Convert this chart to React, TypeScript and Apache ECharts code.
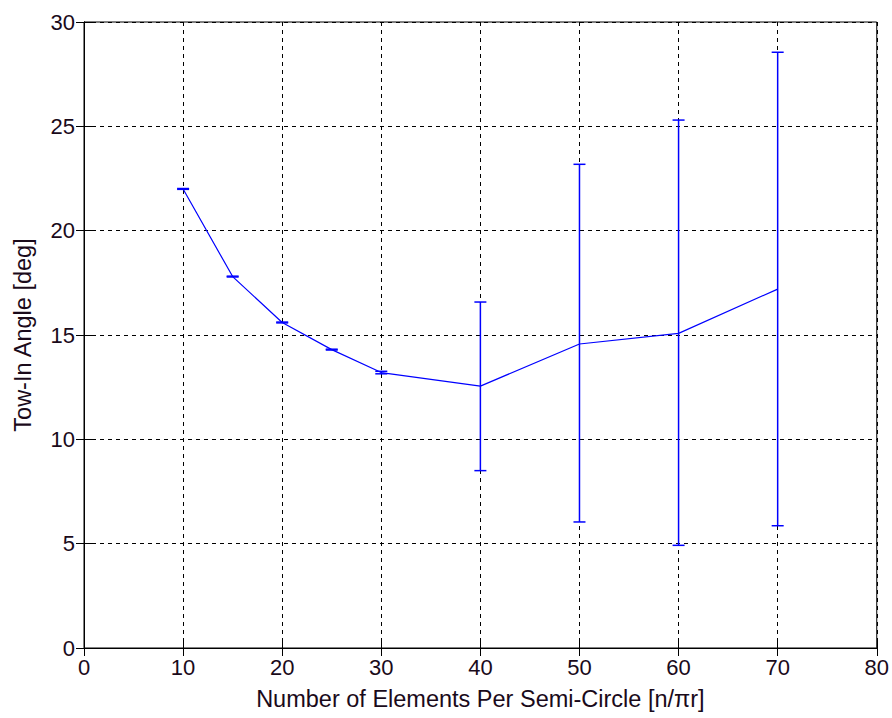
import React, { useEffect, useRef } from "react";
import * as echarts from "echarts";

const xValues = [10, 15, 20, 25, 30, 40, 50, 60, 70];
const meanValues = [22.0, 17.8, 15.6, 14.3, 13.2, 12.55, 14.57, 15.08, 17.2];
const upperValues = [22.02, 17.82, 15.62, 14.32, 13.26, 16.58, 23.18, 25.3, 28.55];
const lowerValues = [21.98, 17.78, 15.58, 14.28, 13.14, 8.5, 6.04, 4.92, 5.86];

const xTicks = [0, 10, 20, 30, 40, 50, 60, 70, 80];
const yTicks = [0, 5, 10, 15, 20, 25, 30];

const FONT = "Liberation Sans, Arial, sans-serif";
const NAME_FS = 23.5;
const TICK_FS = 22;
const BLUE = "#0000ff";

export default function App() {
  const ref = useRef<HTMLDivElement>(null);
  useEffect(() => {
    if (!ref.current) return;
    const chart = echarts.init(ref.current, undefined, { renderer: "svg" });
    const lineData = xValues.map((x, i) => [x, meanValues[i]]);
    const errData = xValues.map((x, i) => [x, lowerValues[i], upperValues[i]]);
    const grid = { left: 84, right: 12, top: 22, bottom: 70 };
    const textColor = "#1a0a1a";
    chart.setOption({
      animation: false,
      backgroundColor: "#ffffff",
      grid: { ...grid, show: true, borderColor: "#000", borderWidth: 1, backgroundColor: "transparent" },
      xAxis: [
        {
          type: "value",
          min: xTicks[0],
          max: xTicks[xTicks.length - 1],
          interval: 10,
          position: "bottom",
          name: "Number of Elements Per Semi-Circle [n/\u03c0r]",
          nameLocation: "middle",
          nameGap: 39,
          nameTextStyle: { fontFamily: FONT, fontSize: NAME_FS, color: textColor },
          axisLine: { show: true, lineStyle: { color: "#000", width: 1 } },
          axisTick: { show: true, inside: true, length: 8, lineStyle: { color: "#000" } },
          axisLabel: { fontFamily: FONT, fontSize: TICK_FS, color: textColor, margin: 8 },
          splitLine: { show: true, lineStyle: { color: "#000", type: [4, 4], width: 1 } },
        },
        {
          type: "value",
          min: xTicks[0],
          max: xTicks[xTicks.length - 1],
          interval: 10,
          position: "top",
          axisLine: { show: true, lineStyle: { color: "#000" } },
          axisTick: { show: true, inside: true, length: 8, lineStyle: { color: "#000" } },
          axisLabel: { show: false },
          splitLine: { show: false },
        },
      ],
      yAxis: [
        {
          type: "value",
          min: yTicks[0],
          max: yTicks[yTicks.length - 1],
          interval: 5,
          position: "left",
          name: "Tow-In Angle [deg]",
          nameLocation: "middle",
          nameGap: 49,
          nameTextStyle: { fontFamily: FONT, fontSize: NAME_FS, color: textColor },
          axisLine: { show: true, lineStyle: { color: "#000" } },
          axisTick: { show: true, inside: true, length: 8, lineStyle: { color: "#000" } },
          axisLabel: { fontFamily: FONT, fontSize: TICK_FS, color: textColor, margin: 9 },
          splitLine: { show: true, lineStyle: { color: "#000", type: [4, 4], width: 1 } },
        },
        {
          type: "value",
          min: yTicks[0],
          max: yTicks[yTicks.length - 1],
          interval: 5,
          position: "right",
          axisLine: { show: true, lineStyle: { color: "#000" } },
          axisTick: { show: true, inside: true, length: 8, lineStyle: { color: "#000" } },
          axisLabel: { show: false },
          splitLine: { show: false },
        },
      ],
      series: [
        {
          type: "line",
          xAxisIndex: 0,
          yAxisIndex: 0,
          data: lineData,
          showSymbol: false,
          symbol: "none",
          lineStyle: { color: BLUE, width: 1.2 },
          z: 3,
        },
        {
          type: "custom",
          xAxisIndex: 0,
          yAxisIndex: 0,
          data: errData,
          z: 4,
          renderItem: (params: any, api: any) => {
            const x = api.value(0);
            const lo = api.coord([x, api.value(1)]);
            const hi = api.coord([x, api.value(2)]);
            const half = 6;
            const style = { stroke: BLUE, lineWidth: 1.5, fill: "none" };
            return {
              type: "group",
              children: [
                { type: "line", shape: { x1: lo[0], y1: lo[1], x2: hi[0], y2: hi[1] }, style },
                { type: "line", shape: { x1: lo[0] - half, y1: lo[1], x2: lo[0] + half, y2: lo[1] }, style },
                { type: "line", shape: { x1: hi[0] - half, y1: hi[1], x2: hi[0] + half, y2: hi[1] }, style },
              ],
            };
          },
        },
      ],
    });
    return () => chart.dispose();
  }, []);
  return <div ref={ref} style={{ width: 892, height: 718, position: "absolute", left: 0, top: 0 }} />;
}
